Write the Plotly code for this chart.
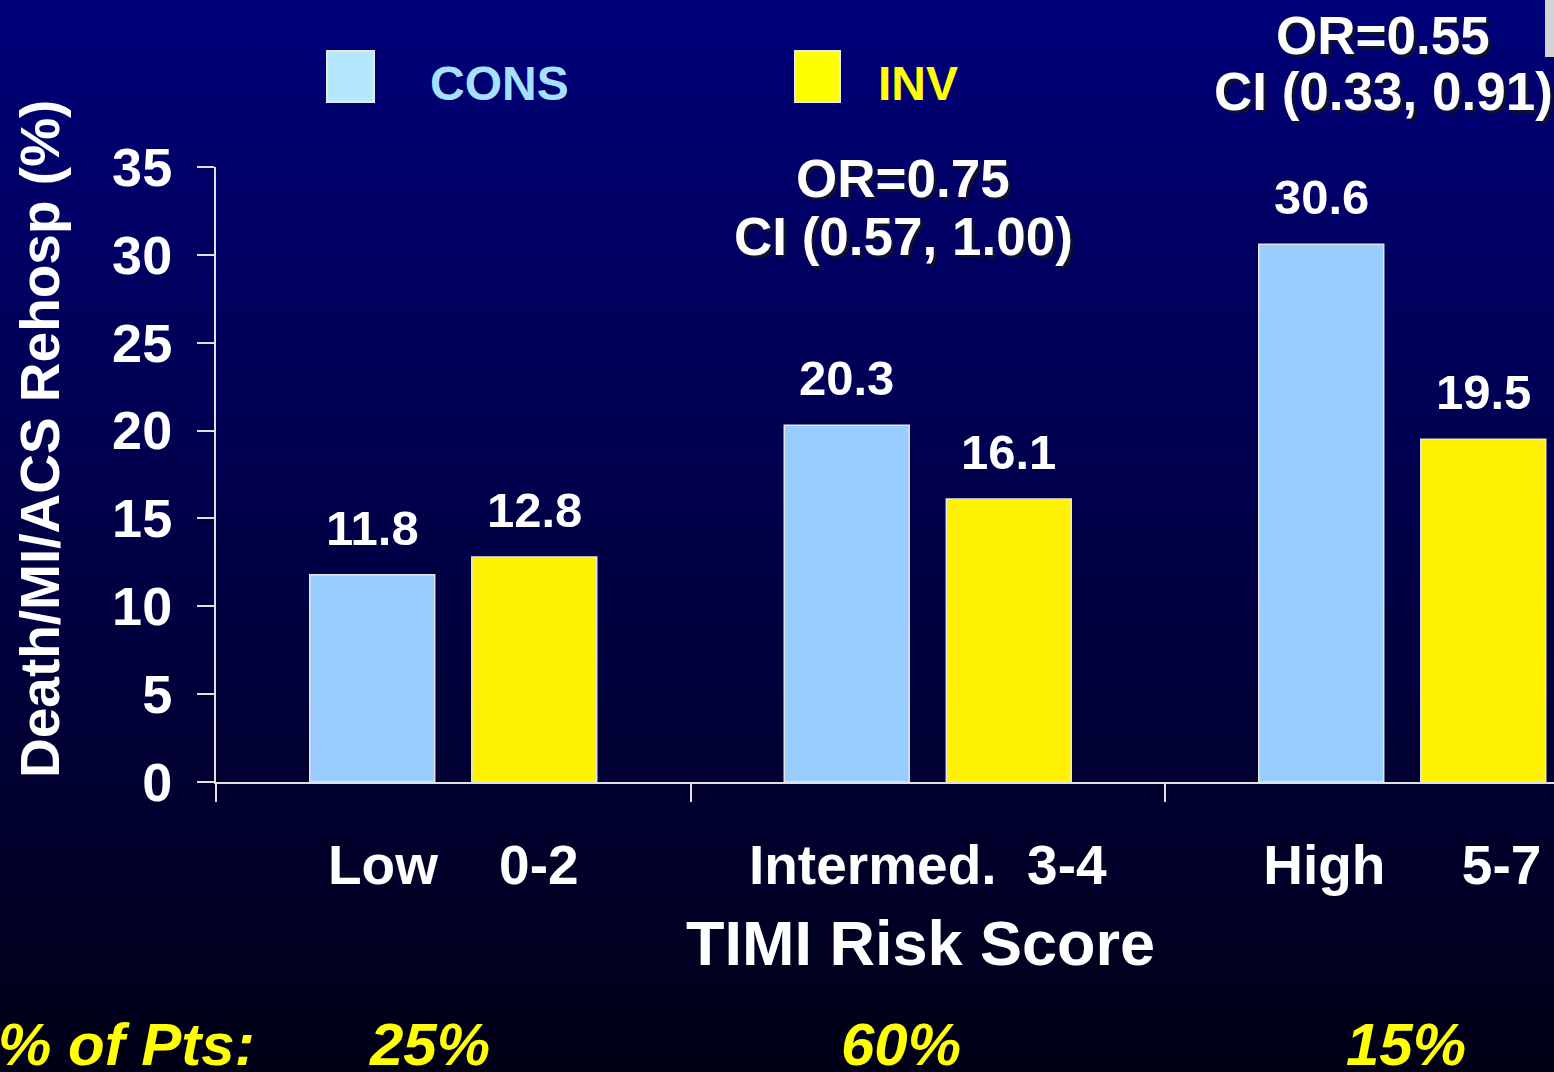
import base64
import plotly.graph_objects as go

# ---- data ----
risk_groups = ["Low", "Intermed.", "High"]
score_ranges = ["0-2", "3-4", "5-7"]
cons_values = [11.8, 20.3, 30.6]
inv_values = [12.8, 16.1, 19.5]
or_lines = ["OR=0.75", "OR=0.55"]
ci_lines = ["CI (0.57, 1.00)", "CI (0.33, 0.91)"]
pct_of_pts = [25, 60, 15]
y_ticks = [0, 5, 10, 15, 20, 25, 30, 35]

# ---- geometry ----
W, H = 1554, 1072
L, R, T, B = 216, 0, 167, 290
PW, PH = W - L - R, H - T - B
FONT = "Liberation Sans, Arial, Helvetica, sans-serif"


def xp(px):
    return (px - L) / PW


def yp(py):
    return (H - B - py) / PH


# spacing (non-breaking spaces) between group name and score range
gaps = [4, 2, 5]
tick_labels = [f"{g}{chr(160) * n}{s}" for g, n, s in zip(risk_groups, gaps, score_ranges)]

# background: vertical navy-to-black gradient as an SVG image
svg = (
    f'<svg xmlns="http://www.w3.org/2000/svg" width="{W}" height="{H}" preserveAspectRatio="none">'
    '<defs><linearGradient id="g" x1="0" y1="0" x2="0" y2="1">'
    '<stop offset="0" stop-color="#00007a"/><stop offset="1" stop-color="#000016"/>'
    '</linearGradient></defs><rect width="100%" height="100%" fill="url(#g)"/></svg>'
)
bg_src = "data:image/svg+xml;base64," + base64.b64encode(svg.encode()).decode()

fig = go.Figure()
fig.add_trace(go.Bar(
    x=tick_labels, y=cons_values, name="CONS", showlegend=False,
    marker=dict(color="#99ccff", line=dict(color="#e6e6e6", width=1.5)),
    hoverinfo="skip",
))
fig.add_trace(go.Bar(
    x=tick_labels, y=inv_values, name="INV", showlegend=False,
    marker=dict(color="#fff200", line=dict(color="#e6e6e6", width=1.5)),
    hoverinfo="skip",
))

annotations = []
# value labels above the bars
slot = 0.1708
for i, (c, v) in enumerate(zip(cons_values, inv_values)):
    for off, val in ((-slot, c), (slot, v)):
        annotations.append(dict(
            x=i + off, y=val, xref="x", yref="y", text=f"{val:.1f}",
            showarrow=False, yanchor="middle", yshift=47,
            font=dict(family=FONT, size=49, color="white", weight="bold"),
        ))

# odds ratio blocks
shadow = "3px 3px 1px #101030"
or_pos = [(903, 178, 236), (1383, 35, 92)]
for (cx, y1, y2), o, ci in zip(or_pos, or_lines, ci_lines):
    for txt, yy in ((o, y1), (ci, y2)):
        annotations.append(dict(
            x=xp(cx), y=yp(yy), xref="paper", yref="paper", text=txt,
            showarrow=False, xanchor="center", yanchor="middle",
            font=dict(family=FONT, size=53, color="white", weight="bold", shadow=shadow),
        ))

# y-axis title
annotations.append(dict(
    x=xp(40), y=yp(439), xref="paper", yref="paper", text="Death/MI/ACS Rehosp (%)",
    textangle=-90, showarrow=False, xanchor="center", yanchor="middle",
    font=dict(family=FONT, size=55, color="white", weight="bold"),
))
# x-axis title
annotations.append(dict(
    x=xp(920), y=yp(943), xref="paper", yref="paper", text="TIMI Risk Score",
    showarrow=False, xanchor="center", yanchor="middle",
    font=dict(family=FONT, size=63, color="white", weight="bold"),
))

# legend entries
legend_items = [
    ("CONS", "#b3e8ff", "#a6e0ff", 327, 374, 428),
    ("INV", "#ffff00", "#ffff00", 795, 840, 876),
]
shapes = []
for name, fill, tcol, x0, x1, tx in legend_items:
    shapes.append(dict(
        type="rect", xref="paper", yref="paper",
        x0=xp(x0), x1=xp(x1), y0=yp(102), y1=yp(51),
        fillcolor=fill, line=dict(color="#e8e8e8", width=2),
    ))
    annotations.append(dict(
        x=xp(tx), y=yp(83), xref="paper", yref="paper", text=name,
        showarrow=False, xanchor="left", yanchor="middle",
        font=dict(family=FONT, size=48, color=tcol, weight="bold"),
    ))

# share of patients row
pct_font = dict(family=FONT, size=60, color="#ffff00", weight="bold", style="italic")
annotations.append(dict(
    x=xp(257), y=yp(1044), xref="paper", yref="paper", text="% of Pts:",
    showarrow=False, xanchor="right", yanchor="middle", font=pct_font,
))
pct_x = [429, 901, 1406]
for px, p in zip(pct_x, pct_of_pts):
    annotations.append(dict(
        x=xp(px), y=yp(1044), xref="paper", yref="paper", text=f"{p}%",
        showarrow=False, xanchor="center", yanchor="middle", font=pct_font,
    ))

# corner fragment of a slide graphic
shapes.append(dict(
    type="rect", xref="paper", yref="paper",
    x0=xp(1545), x1=xp(1556), y0=yp(57), y1=yp(-2),
    fillcolor="#d4d4d4", line=dict(width=0),
))

fig.update_layout(
    width=W, height=H,
    margin=dict(l=L, r=R, t=T, b=B, pad=0),
    paper_bgcolor="#00003a",
    plot_bgcolor="rgba(0,0,0,0)",
    barmode="group", bargap=0.317, bargroupgap=0.229,
    showlegend=False,
    images=[dict(
        source=bg_src, xref="paper", yref="paper",
        x=xp(0), y=yp(0), sizex=W / PW, sizey=H / PH,
        xanchor="left", yanchor="top", sizing="stretch", layer="below",
    )],
    shapes=shapes,
    annotations=annotations,
    xaxis=dict(
        type="category", range=[-0.5, -0.5 + PW / 474.5],
        showline=True, linecolor="#e0e0e0", linewidth=2,
        ticks="outside", ticklen=18, tickwidth=2, tickcolor="#e0e0e0",
        tickson="boundaries", ticklabelstandoff=34,
        tickfont=dict(family=FONT, size=55, color="white", weight="bold"),
        showgrid=False, zeroline=False, fixedrange=True,
    ),
    yaxis=dict(
        range=[0, 35], tickvals=y_ticks,
        showline=True, linecolor="#e0e0e0", linewidth=2,
        ticks="outside", ticklen=17, tickwidth=2, tickcolor="#e0e0e0",
        ticklabelstandoff=14,
        tickfont=dict(family=FONT, size=54, color="white", weight="bold"),
        showgrid=False, zeroline=False, fixedrange=True,
    ),
)

fig.write_html("out.html", config={"displayModeBar": False})
